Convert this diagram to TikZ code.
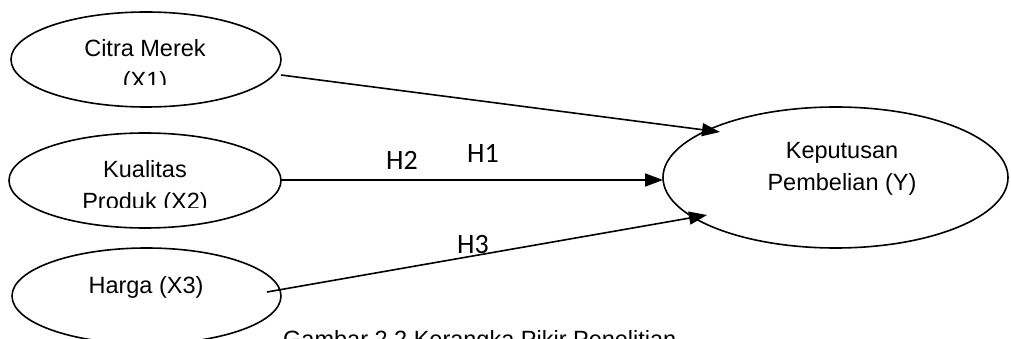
\documentclass[tikz,border=0pt]{standalone}
\usepackage{fontspec}
\setmainfont{Liberation Sans}
\newfontfamily\hfont{Carlito}
\usetikzlibrary{shapes.geometric,arrows.meta}
\begin{document}
\begin{tikzpicture}[x=1pt,y=-1pt,
  oval/.style={draw,ellipse,line width=1.6pt,inner sep=0pt},
  lbl/.style={font=\fontsize{23.5}{32}\selectfont,inner sep=0pt,anchor=base,align=center},
  hl/.style={font=\hfont\fontsize{28}{32}\selectfont,inner sep=0pt,anchor=base},
  conn/.style={line width=1.6pt,-{Triangle[length=18pt,width=13pt]}}]
\clip (0,0) rectangle (1011,339);
\node[oval,minimum width=270pt,minimum height=95pt] (x1) at (146,59.5) {};
\node[oval,minimum width=272pt,minimum height=95pt] (x2) at (145,180.5) {};
\node[oval,minimum width=269pt,minimum height=96pt] (x3) at (146.5,296) {};
\node[oval,minimum width=345pt,minimum height=141pt] (y) at (835.5,177.5) {};
\begin{scope}
\clip (20,20) rectangle (270,85);
\node[lbl] (t1) at (145,89) {Citra Merek\\(X1)};
\end{scope}
\begin{scope}
\clip (20,140) rectangle (270,207);
\node[lbl] (t2) at (145,209) {Kualitas\\Produk (X2)};
\end{scope}
\node[lbl] (t3) at (146,293) {Harga (X3)};
\node[lbl] (ty) at (842,190) {Keputusan\\Pembelian (Y)};
\node[lbl,anchor=base west] (cap) at (283,347) {Gambar 2.2 Kerangka Pikir Penelitian};
\coordinate (s1) at (281,75);
\coordinate (e1) at (720,132);
\coordinate (s2) at (281,180);
\coordinate (e2) at (663,180);
\coordinate (s3) at (267,292);
\coordinate (e3) at (707,215);
\draw[conn] (s1) -- (e1);
\draw[conn] (s2) -- (e2);
\draw[conn] (s3) -- (e3);
\node[hl] (h2) at (402,170) {H2};
\node[hl] (h1) at (483,163) {H1};
\node[hl] (h3) at (473,253) {H3};
\end{tikzpicture}
\end{document}
